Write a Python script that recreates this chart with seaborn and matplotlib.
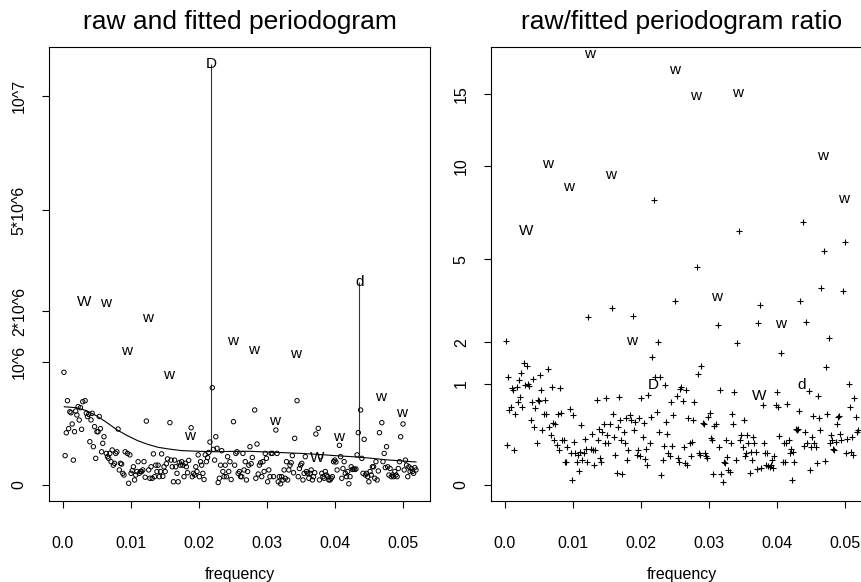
import numpy as np
import matplotlib
matplotlib.use("Agg")
import matplotlib.pyplot as plt
from matplotlib.ticker import FixedLocator, FixedFormatter
import seaborn as sns

sns.set_theme(style="ticks")
plt.rcParams['font.family'] = ['Liberation Sans', 'DejaVu Sans']
plt.rcParams['text.color'] = 'black'
plt.rcParams['axes.labelcolor'] = 'black'
plt.rcParams['axes.titlecolor'] = 'black'

# Fourier frequency grid of the periodogram
DF = 0.0001729
N_FREQ = 300
freq = np.arange(1, N_FREQ + 1) * DF

# raw periodogram ordinates (millions), one row per block of 18 frequencies;
# the last entry of each full row is the labelled harmonic
raw_millions = [
    0.84, 0.057, 0.18, 0.47, 0.21, 0.355, 0.345, 0.246, 0.041, 0.188, 0.362, 0.324, 0.406, 0.279, 0.395, 0.205, 0.459, 2.22,
    0.47, 0.34, 0.31, 0.33, 0.124, 0.28, 0.34, 0.097, 0.225, 0.047, 0.188, 0.188, 0.31, 0.21, 0.073, 0.115, 0.154, 2.20,
    0.066, 0.053, 0.047, 0.066, 0.036, 0.081, 0.026, 0.031, 0.066, 0.073, 0.207, 0.015, 0.031, 0.029, 0.009, 0.0066, 0.073, 1.19,
    0.066, 0.0002, 0.06, 0.009, 0.0136, 0.022, 0.0017, 0.0066, 0.012, 0.036, 0.009, 0.012, 0.012, 0.015, 0.036, 0.004, 0.27, 1.84,
    0.015, 0.003, 0.022, 0.003, 0.064, 0.0046, 0.026, 0.012, 0.026, 0.0046, 0.012, 0.064, 0.005, 0.022, 0.012, 0.03, 0.045, 0.80,
    0.257, 0.041, 0.022, 0.0007, 0.041, 0.022, 0.009, 0.0007, 0.033, 0.026, 0.036, 0.026, 0.0046, 0.031, 0.022, 0.01, 0.04, 0.16,
    0.217, 0.0046, 0.009, 0.0066, 0.022, 0.012, 0.06, 0.0046, 0.036, 0.026, 0.009, 0.002, 0.06, 0.036, 0.05, 0.07, 0.122, 11.7,
    0.626, 0.084, 0.041, 0.154, 0.089, 0.0004, 0.003, 0.026, 0.078, 0.012, 0.0046, 0.026, 0.0046, 0.053, 0.012, 0.036, 0.002, 1.37,
    0.265, 0.026, 0.066, 0.073, 0.009, 0.012, 0.0046, 0.0046, 0.066, 0.015, 0.036, 0.0017, 0.012, 0.026, 0.097, 0.03, 0.05, 1.20,
    0.372, 0.003, 0.111, 0.008, 0.026, 0.033, 0.0046, 0.036, 0.012, 0.066, 0.047, 0.0007, 0.015, 0.0046, 0.066, 0.066, 0.0046, 0.27,
    0.20, 0.066, 0.0007, 0.0046, 0.0001, 0.0046, 0.0017, 0.015, 0.003, 0.036, 0.0017, 0.015, 0.026, 0.033, 0.057, 0.01, 0.144, 1.13,
    0.47, 0.0046, 0.018, 0.026, 0.031, 0.0017, 0.009, 0.053, 0.012, 0.009, 0.003, 0.009, 0.015, 0.0017, 0.0046, 0.01, 0.172, 0.05,
    0.212, 0.0017, 0.053, 0.009, 0.0046, 0.003, 0.012, 0.0066, 0.0046, 0.0017, 0.0017, 0.003, 0.0046, 0.036, 0.041, 0.035, 0.015, 0.154,
    0.104, 0.053, 0.003, 0.018, 0.036, 0.009, 0.0046, 0.012, 0.0001, 0.0046, 0.022, 0.016, 0.017, 0.016, 0.017, 0.06, 0.181, 2.73,
    0.372, 0.047, 0.009, 0.138, 0.0066, 0.009, 0.0046, 0.0007, 0.012, 0.0066, 0.022, 0.022, 0.003, 0.036, 0.0017, 0.013, 0.181, 0.515,
    0.257, 0.036, 0.066, 0.02, 0.097, 0.022, 0.0066, 0.018, 0.0046, 0.0066, 0.0046, 0.012, 0.0066, 0.0046, 0.018, 0.036, 0.154, 0.34,
    0.246, 0.015, 0.041, 0.026, 0.0046, 0.022, 0.012, 0.018, 0.012, 0.009, 0.02, 0.015,
]

# raw / fitted ratio at the same frequencies
ratio = [
    2.04, 0.16, 1.15, 0.55, 0.60, 0.92, 0.88, 0.12, 0.50, 0.95, 0.67, 1.08, 0.76, 1.22, 0.60, 1.45, 0.98, 6.32,
    1.39, 1.01, 0.96, 0.41, 0.68, 1.11, 0.33, 0.58, 0.17, 0.71, 0.70, 1.19, 0.88, 0.30, 0.50, 0.71, 0.49, 10.08,
    1.33, 0.33, 0.25, 0.95, 0.38, 0.20, 0.37, 0.16, 0.50, 0.12, 0.93, 0.51, 0.20, 0.20, 0.05, 0.05, 0.14, 8.72,
    0.56, 0.10, 0.003, 0.48, 0.18, 0.10, 0.05, 0.09, 0.02, 0.11, 0.35, 0.06, 0.10, 0.21, 0.13, 0.05, 2.76, 18.2,
    0.125, 0.26, 0.12, 0.04, 0.12, 0.71, 0.20, 0.31, 0.07, 0.05, 0.28, 0.37, 0.175, 0.74, 0.25, 0.175, 0.37, 9.42,
    3.06, 0.50, 0.23, 0.09, 0.015, 0.33, 0.76, 0.41, 0.20, 0.013, 0.28, 0.17, 0.44, 0.06, 0.12, 0.48, 0.41, 2.03,
    2.80, 0.30, 0.39, 0.09, 0.12, 0.44, 0.08, 0.74, 0.23, 0.38, 0.066, 0.13, 0.04, 0.79, 0.17, 0.45, 1.60, 0.98,
    7.96, 1.15, 0.53, 2.00, 0.28, 1.15, 0.01, 0.06, 0.15, 0.98, 0.39, 0.26, 0.10, 0.08, 0.68, 0.15, 0.48, 16.9,
    3.33, 0.78, 0.07, 0.05, 0.90, 0.95, 0.70, 0.14, 0.046, 0.88, 0.04, 0.44, 0.17, 0.085, 0.18, 0.41, 0.67, 14.8,
    4.65, 1.21, 0.10, 0.09, 1.39, 0.38, 0.37, 0.10, 0.08, 0.07, 0.45, 0.51, 0.22, 0.20, 0.011, 0.34, 0.36, 3.48,
    2.51, 0.14, 0.88, 0.011, 0.001, 0.053, 0.046, 0.20, 0.079, 0.022, 0.017, 0.17, 0.49, 0.37, 0.85, 0.06, 1.99, 15.1,
    6.31, 0.20, 0.25, 0.14, 0.41, 0.08, 0.10, 0.25, 0.17, 0.015, 0.11, 0.06, 0.23, 0.17, 0.11, 0.024, 2.56, 0.78,
    3.19, 0.027, 0.63, 0.17, 0.10, 0.04, 0.10, 0.035, 0.033, 0.04, 0.06, 0.03, 0.082, 0.63, 0.85, 0.60, 0.24, 2.53,
    1.72, 0.053, 0.17, 0.053, 0.17, 0.65, 0.20, 0.10, 0.13, 0.0025, 0.11, 0.053, 0.31, 0.30, 0.31, 0.54, 3.31, 0.98,
    6.77, 0.15, 0.28, 2.61, 0.17, 0.87, 0.022, 0.14, 0.23, 0.47, 0.17, 0.14, 0.049, 0.78, 0.44, 0.30, 3.79, 10.6,
    5.38, 0.058, 1.37, 0.49, 2.11, 0.17, 0.25, 0.20, 0.125, 0.12, 0.18, 0.37, 0.46, 0.47, 0.26, 0.20, 3.69, 8.0,
    5.80, 0.10, 0.21, 1.01, 0.59, 0.11, 0.23, 0.088, 0.75, 0.45, 0.28, 0.30,
]

# labels of the harmonics (every 18th frequency)
HARM_STEP = 18
harm_labels = ["W", "w", "w", "w", "w", "w", "D", "w",
               "w", "w", "w", "W", "w", "d", "w", "w"]
spike_labels = ["D", "d"]
spike_base_millions = [0.073, 0.057]

# fitted spectrum
fit_freq = [0.0002, 0.002, 0.0035, 0.005, 0.0065, 0.008, 0.0095, 0.011, 0.0125,
            0.014, 0.0155, 0.0175, 0.02, 0.0225, 0.025, 0.0275, 0.03, 0.0325,
            0.035, 0.0375, 0.04, 0.0425, 0.045, 0.0475, 0.05, 0.0519]
fit_millions = [0.405, 0.395, 0.365, 0.315, 0.257, 0.2, 0.161, 0.13, 0.109,
                0.094, 0.086, 0.078, 0.075, 0.073, 0.075, 0.075, 0.072, 0.069,
                0.066, 0.062, 0.057, 0.053, 0.048, 0.042, 0.038, 0.035]

x_ticks = [0.0, 0.01, 0.02, 0.03, 0.04, 0.05]
x_ticklabels = ["0.0", "0.01", "0.02", "0.03", "0.04", "0.05"]
left_yticks = [0, 1e6, 2e6, 5e6, 1e7]
left_yticklabels = ["0", "10^6", "2*10^6", "5*10^6", "10^7"]
right_yticks = [0, 1, 2, 5, 10, 15]
right_yticklabels = ["0", "1", "2", "5", "10", "15"]

assert len(raw_millions) == N_FREQ and len(ratio) == N_FREQ

raw = np.array(raw_millions) * 1e6
ratio = np.array(ratio)
idx = np.arange(1, N_FREQ + 1)
is_harm = (idx % HARM_STEP == 0)
harm_pos = np.where(is_harm)[0]


def fwd(v):
    v = np.asarray(v, dtype=float)
    return np.sign(v) * np.sqrt(np.abs(v))


def inv(u):
    u = np.asarray(u, dtype=float)
    return np.sign(u) * u ** 2


W, H = 862, 582
fig = plt.figure(figsize=(W / 100, H / 100), dpi=100)
ax1 = fig.add_axes([49 / W, 81 / H, 381 / W, 454 / H])
ax2 = fig.add_axes([491 / W, 81 / H, 381 / W, 454 / H])

TICK_FS = 11.5
LETTER_FS = 11

# ---- left: raw periodogram with fitted spectrum ----
sns.scatterplot(x=freq[~is_harm], y=raw[~is_harm], marker="o", s=10,
                facecolors="none", edgecolor="black", linewidth=0.7,
                ax=ax1, zorder=3)
sns.lineplot(x=fit_freq, y=np.array(fit_millions) * 1e6, color="black",
             linewidth=0.8, ax=ax1, zorder=2)
for lab, p in zip(harm_labels, harm_pos):
    ax1.text(freq[p], raw[p], lab, ha="center", va="center",
             fontsize=LETTER_FS, color="black", zorder=4)
spike_pos = [harm_pos[harm_labels.index(s)] for s in spike_labels]
ax1.vlines([freq[p] for p in spike_pos], np.array(spike_base_millions) * 1e6,
           [raw[p] for p in spike_pos], color="#333333", linewidth=0.8, zorder=2)

ax1.set_yscale("function", functions=(fwd, inv))
ax1.set_ylim(-(0.130 ** 2) * 1e6, (3.561 ** 2) * 1e6)
ax1.yaxis.set_major_locator(FixedLocator(left_yticks))
ax1.yaxis.set_major_formatter(FixedFormatter(left_yticklabels))
ax1.set_title("raw and fitted periodogram", fontsize=19, pad=13, color="black")

# ---- right: ratio ----
sns.scatterplot(x=freq[~is_harm], y=ratio[~is_harm], marker="+", s=14,
                color="black", linewidth=0.8, ax=ax2, zorder=3)
for lab, p in zip(harm_labels, harm_pos):
    ax2.text(freq[p], ratio[p], lab, ha="center", va="center",
             fontsize=LETTER_FS, color="black", zorder=4)
ax2.set_yscale("function", functions=(fwd, inv))
ax2.set_ylim(-(0.158 ** 2), 4.337 ** 2)
ax2.yaxis.set_major_locator(FixedLocator(right_yticks))
ax2.yaxis.set_major_formatter(FixedFormatter(right_yticklabels))
ax2.set_title("raw/fitted periodogram ratio", fontsize=19, pad=13, color="black")

for ax in (ax1, ax2):
    ax.set_xlim(-0.00202, 0.05393)
    ax.xaxis.set_major_locator(FixedLocator(x_ticks))
    ax.xaxis.set_major_formatter(FixedFormatter(x_ticklabels))
    ax.set_xlabel("frequency", fontsize=TICK_FS, labelpad=12, color="black")
    ax.set_ylabel("")
    ax.tick_params(axis="both", direction="out", length=5, width=0.8,
                   colors="black", labelsize=TICK_FS)
    ax.tick_params(axis="x", pad=20)
    ax.tick_params(axis="y", pad=11, labelrotation=90)
    for lbl in ax.get_yticklabels():
        lbl.set_va("center")
    for sp in ax.spines.values():
        sp.set_visible(True)
        sp.set_color("black")
        sp.set_linewidth(0.8)
    ax.grid(False)

fig.savefig("out.png", dpi=100)
